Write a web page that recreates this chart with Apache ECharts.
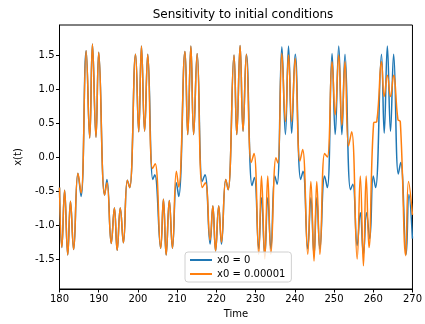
<!DOCTYPE html>
<html lang="en">
<head>
    <meta charset="UTF-8">
    <title>Sensitivity to initial conditions</title>
    <script type="text/javascript" src="https://cdn.jsdelivr.net/npm/echarts@6/dist/echarts.min.js"></script>
    <style>
        html, body { margin: 0; padding: 0; background: #fff; }
    </style>
</head>
<body>
<div id="chart" style="width: 425px;height:324px;"></div>
<script>
    // values (peaks, troughs, shoulders)
    var tBlue = [180.0, 180.6, 181.3, 182.1, 182.8, 183.6, 184.7, 185.5, 186.8, 187.7, 188.4, 189.3, 190.0,
        191.5, 192.1, 193.2, 194.0, 194.7, 195.5, 196.3, 197.3, 197.9, 199.4, 200.2, 200.9, 201.7, 202.5,
        203.8, 204.3, 205.8, 206.5, 207.2, 208.0, 208.8, 209.8, 210.4, 212.0, 212.7, 213.5, 214.2, 215.1,
        216.4, 217.1, 218.4, 219.1, 219.8, 220.6, 221.3, 222.4, 223.0, 224.5, 225.2, 226.05, 226.8, 227.65,
        229.1, 229.7, 230.8, 231.5, 232.35, 233.1, 233.9, 234.9, 235.5, 236.7, 237.6, 238.4, 239.2, 240.1,
        241.5, 242.1, 243.3, 244.1, 244.9, 245.6, 246.4, 247.6, 248.3, 249.5, 250.3, 251.2, 252.0, 252.8,
        254.2, 254.8, 255.9, 256.7, 257.5, 258.3, 259.1, 260.0, 260.6, 262.1, 262.8, 263.6, 264.4, 265.2,
        266.4, 267.0, 268.4, 269.1, 270.0];
    var xBlue = [-0.45, -1.33, -0.49, -1.44, -0.65, -1.36, -0.24, -0.58, 1.56, 0.28, 1.66, 0.29, 1.54,
        -0.56, -0.33, -1.27, -0.75, -1.37, -0.75, -1.26, -0.34, -0.45, 1.51, 0.37, 1.63, 0.38, 1.51,
        -0.33, -0.26, -1.34, -0.62, -1.44, -0.64, -1.34, -0.38, -0.58, 1.55, 0.33, 1.63, 0.33, 1.52,
        -0.36, -0.26, -1.28, -0.72, -1.38, -0.72, -1.28, -0.33, -0.48, 1.50, 0.33, 1.64, 0.38, 1.51,
        -0.42, -0.30, -1.35, -0.60, -1.45, -0.60, -1.35, -0.28, -0.40, 1.62, 0.33, 1.63, 0.35, 1.51,
        -0.33, -0.21, -1.35, -0.60, -1.45, -0.60, -1.35, -0.28, -0.45, 1.52, 0.33, 1.63, 0.33, 1.51,
        -0.48, -0.40, -1.30, -0.82, -1.43, -0.82, -1.20, -0.28, -0.45, 1.51, 0.35, 1.63, 0.38, 1.51,
        -0.25, -0.08, -1.43, -0.55, -1.20];

    var tOrange = [180.0, 180.6, 181.3, 182.1, 182.8, 183.6, 184.7, 185.5, 186.8, 187.7, 188.4, 189.3, 190.0,
        191.5, 192.1, 193.2, 194.0, 194.7, 195.5, 196.3, 197.3, 197.9, 199.4, 200.2, 200.9, 201.7, 202.5,
        203.7, 204.4, 205.8, 206.5, 207.2, 208.0, 208.8, 209.8, 210.4, 212.0, 212.7, 213.5, 214.2, 215.1,
        216.4, 217.2, 218.4, 219.1, 219.8, 220.6, 221.3, 222.4, 223.0, 224.5, 225.2, 226.05, 226.8, 227.65,
        228.9, 229.6, 230.8, 231.5, 232.35, 233.1, 233.9, 235.2, 235.7, 236.7, 237.6, 238.4, 239.2, 240.1,
        241.3, 242.0, 243.3, 244.1, 244.9, 245.6, 246.4, 247.6, 248.3, 249.5, 250.3, 251.2, 252.0, 252.8,
        253.7, 254.5, 255.9, 256.7, 257.5, 258.2, 258.9, 260.1, 260.9, 262.1, 262.8, 263.6, 264.4, 265.2,
        266.3, 266.9, 268.3, 269.0, 270.0];
    var xOrange = [-0.45, -1.33, -0.49, -1.44, -0.65, -1.36, -0.24, -0.53, 1.56, 0.28, 1.66, 0.29, 1.54,
        -0.56, -0.38, -1.27, -0.75, -1.37, -0.75, -1.26, -0.34, -0.45, 1.51, 0.37, 1.63, 0.38, 1.51,
        -0.17, -0.10, -1.34, -0.62, -1.44, -0.64, -1.34, -0.21, -0.44, 1.55, 0.33, 1.63, 0.33, 1.52,
        -0.45, -0.38, -1.22, -0.72, -1.38, -0.72, -1.25, -0.33, -0.48, 1.50, 0.33, 1.64, 0.38, 1.51,
        -0.08, 0.05, -1.43, -0.28, -1.50, -0.28, -1.43, -0.01, -0.09, 1.52, 0.52, 1.50, 0.52, 1.45,
        -0.06, 0.11, -1.43, -0.36, -1.53, -0.36, -1.43, 0.05, 0.00, 1.40, 0.62, 1.50, 0.47, 1.40,
        0.16, 0.37, -1.50, -0.28, -1.60, -0.28, -1.33, 0.50, 0.52, 1.40, 0.89, 1.20, 0.89, 1.20,
        0.55, 0.52, -1.45, -0.36, -0.85];

    var seriesNames = ['x0 = 0', 'x0 = 0.00001'];
    var xTicks = [180, 190, 200, 210, 220, 230, 240, 250, 260, 270];
    var yTicks = [-1.5, -1.0, -0.5, 0.0, 0.5, 1.0, 1.5];

    function pairs(ts, xs) {
        var out = [];
        for (var i = 0; i < ts.length; i++) {
            out.push([ts[i], xs[i]]);
        }
        return out;
    }

    var FONT = 'DejaVu Sans';
    var option = {
        animation: false,
        title: {
            text: 'Sensitivity to initial conditions',
            left: 238,
            top: 4,
            textAlign: 'center',
            textStyle: {
                fontFamily: FONT,
                fontSize: 12,
                fontWeight: 'normal',
                color: '#000'
            }
        },
        legend: {
            data: seriesNames,
            orient: 'vertical',
            left: 185,
            top: 252,
            icon: 'rect',
            itemWidth: 22,
            itemHeight: 2,
            itemGap: 4,
            padding: [3, 6, 3, 5],
            backgroundColor: 'rgba(255,255,255,0.8)',
            borderColor: '#d0d0d0',
            borderWidth: 1,
            borderRadius: 3,
            textStyle: {
                fontFamily: FONT,
                fontSize: 10,
                color: '#000'
            }
        },
        grid: {
            left: 59.5,
            right: 8,
            top: 25,
            bottom: 34,
            show: true,
            borderColor: '#000',
            borderWidth: 1,
            containLabel: false
        },
        xAxis: {
            type: 'value',
            min: 180,
            max: 270,
            interval: 10,
            name: 'Time',
            nameLocation: 'middle',
            nameGap: 20,
            nameTextStyle: { fontFamily: FONT, fontSize: 10, color: '#000' },
            axisLine: { onZero: false, lineStyle: { color: '#000', width: 1 } },
            axisTick: { show: true, length: 3.5, lineStyle: { color: '#000' } },
            axisLabel: {
                fontFamily: FONT, fontSize: 10, color: '#000', margin: 5,
                formatter: function (v) {
                    return xTicks.indexOf(v) >= 0 ? String(v) : '';
                }
            },
            splitLine: { show: false }
        },
        yAxis: {
            type: 'value',
            min: -1.94,
            max: 1.94,
            splitNumber: 8,
            name: 'x(t)',
            nameLocation: 'middle',
            nameGap: 36,
            nameTextStyle: { fontFamily: FONT, fontSize: 10, color: '#000' },
            axisLine: { show: true, onZero: false, lineStyle: { color: '#000', width: 1 } },
            axisTick: { show: true, length: 3.5, lineStyle: { color: '#000' } },
            axisLabel: {
                fontFamily: FONT, fontSize: 10, color: '#000', margin: 5,
                showMinLabel: false,
                showMaxLabel: false,
                formatter: function (v) {
                    var r = Math.round(v * 10) / 10;
                    if (Math.abs(v - r) > 1e-6 || yTicks.indexOf(r) < 0) return '';
                    return r.toFixed(1);
                }
            },
            splitLine: { show: false }
        },
        series: [{
            name: seriesNames[0],
            type: 'line',
            data: pairs(tBlue, xBlue),
            smooth: 0.45,
            showSymbol: false,
            symbol: 'none',
            lineStyle: { color: '#1f77b4', width: 1.5 },
            itemStyle: { color: '#1f77b4' }
        }, {
            name: seriesNames[1],
            type: 'line',
            data: pairs(tOrange, xOrange),
            smooth: 0.45,
            showSymbol: false,
            symbol: 'none',
            lineStyle: { color: '#ff7f0e', width: 1.5 },
            itemStyle: { color: '#ff7f0e' }
        }]
    };

    var myChart = echarts.init(document.getElementById('chart'));
    myChart.setOption(option);
</script>
</body>
</html>
